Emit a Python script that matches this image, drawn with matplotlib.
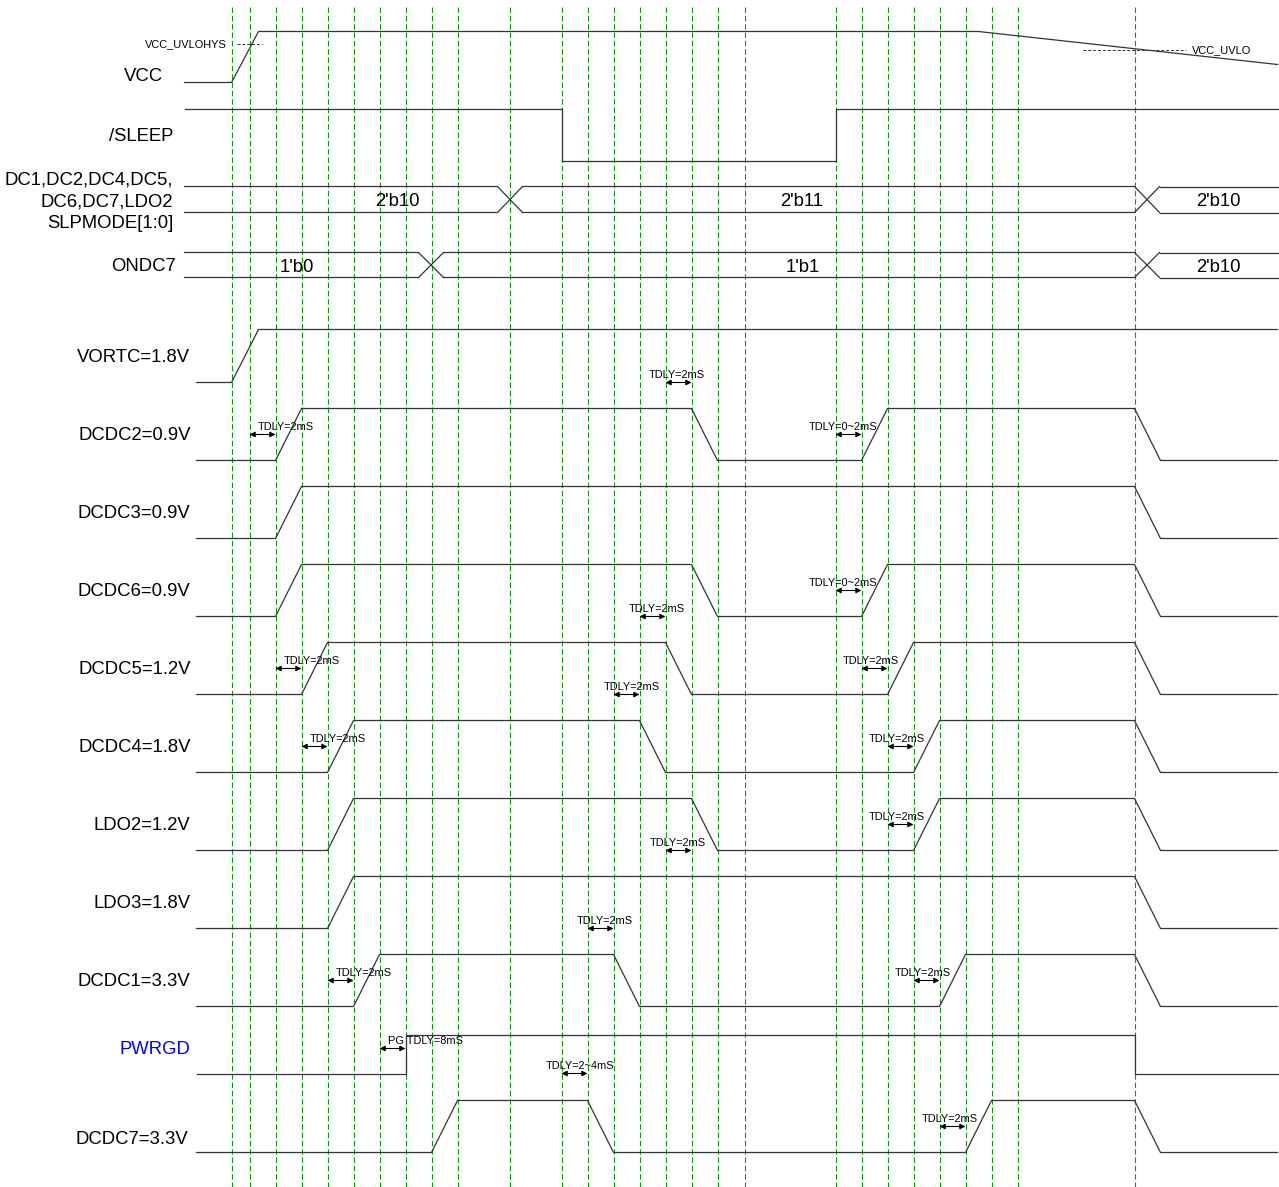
import matplotlib
matplotlib.use('Agg')
import numpy as np
from matplotlib import pyplot as plt

plt.rcParams['font.family'] = ['Liberation Sans', 'DejaVu Sans']

# time axis is in drawing units (left edge = 0), one grid step is ~26 units
grid_t = [231, 249, 275, 301, 327, 353, 379, 405, 431, 457, 509, 561, 587, 613, 639,
          665, 691, 717, 744, 835, 861, 887, 913, 939, 965, 991, 1017, 1134]
t_start = 196
t_end = 1277
ramp = 26

# VCC: rises at power-on, decays at the end
vcc_rise = 231
vcc_fall = 978
# /SLEEP low window
sleep_low = [561, 835]

# bus signals: (transition start, value text after it)
slp_values = ["2'b10", "2'b11", "2'b10"]
slp_edges = [497, 1134]
ondc7_values = ["1'b0", "1'b1", "2'b10"]
ondc7_edges = [418, 1134]

# rail signals: name, edges (time, 1 = rise / 0 = fall)
rail_names = ['VORTC=1.8V', 'DCDC2=0.9V', 'DCDC3=0.9V', 'DCDC6=0.9V', 'DCDC5=1.2V',
              'DCDC4=1.8V', 'LDO2=1.2V', 'LDO3=1.8V', 'DCDC1=3.3V', 'PWRGD', 'DCDC7=3.3V']
rail_edges = [
    [(231, 1)],
    [(275, 1), (691, 0), (861, 1), (1134, 0)],
    [(275, 1), (1134, 0)],
    [(275, 1), (691, 0), (861, 1), (1134, 0)],
    [(301, 1), (665, 0), (887, 1), (1134, 0)],
    [(327, 1), (639, 0), (913, 1), (1134, 0)],
    [(327, 1), (691, 0), (913, 1), (1134, 0)],
    [(327, 1), (1134, 0)],
    [(353, 1), (613, 0), (939, 1), (1134, 0)],
    [(405, 1), (1134, 0)],
    [(431, 1), (587, 0), (965, 1), (1134, 0)],
]

# delay annotations: arrow from, arrow to, text
dly_from = [249, 665, 835, 835, 639, 275, 613, 861, 301, 887, 665, 887, 587, 327, 913, 379, 561, 939]
dly_to = [275, 691, 861, 861, 665, 301, 639, 887, 327, 913, 691, 913, 613, 353, 939, 405, 587, 965]
dly_text = ['TDLY=2mS', 'TDLY=2mS', 'TDLY=0~2mS', 'TDLY=0~2mS', 'TDLY=2mS', 'TDLY=2mS',
            'TDLY=2mS', 'TDLY=2mS', 'TDLY=2mS', 'TDLY=2mS', 'TDLY=2mS', 'TDLY=2mS',
            'TDLY=2mS', 'TDLY=2mS', 'TDLY=2mS', 'PG TDLY=8mS', 'TDLY=2~4mS', 'TDLY=2mS']

# ---- layout (screen positions, y grows downward) ----
rail_low = [382, 460, 538, 616, 694, 772, 850, 928, 1006, 1073, 1152]
rail_high = [329, 408, 486, 564, 642, 720, 798, 876, 954, 1034, 1100]
rail_label_x = [190, 190, 190, 190, 190, 190, 190, 190, 190, 190, 188]
rail_label_y = [355, 433, 511, 589, 667, 745, 823, 901, 979, 1047, 1137]
dly_y = [434, 382, 434, 590, 616, 668, 694, 668, 746, 746, 850, 824, 928, 980, 980, 1048, 1073, 1126]
dly_tx = [257, 648, 808, 808, 628, 283, 603, 842, 309, 868, 649, 868, 576, 335, 894, 387, 545, 921]

LINE = '#333333'
GREEN = '#0a9a0a'
BIG = 13.3
SMALL = 7.9
DPI = 100


def put_text(ax, x, yc, s, size, ha='left', color='black'):
    # place text so that capital letters are centred on yc
    px = size * DPI / 72.0
    ax.text(x, yc + 0.358 * px, s, fontsize=size, ha=ha, va='baseline', color=color)


fig = plt.figure(figsize=(12.79, 11.87), dpi=DPI)
ax = fig.add_axes([0, 0, 1, 1])
# half-pixel shift so integer positions land on pixel centres
ax.set_xlim(-0.5, 1278.5)
ax.set_ylim(1186.5, -0.5)
ax.axis('off')

# grid
for t in grid_t:
    ax.plot([t, t], [6, 1187], color=GREEN, lw=0.8, linestyle=(0, (5, 2.5)), zorder=1)

# VCC
vcc_low, vcc_high, vcc_end = 82, 31, 64
ax.plot([184, vcc_rise, vcc_rise + 27, vcc_fall, t_end],
        [vcc_low, vcc_low, vcc_high, vcc_high, vcc_end], color=LINE, lw=0.9, zorder=3)
put_text(ax, 163, 74, 'VCC', BIG, ha='right')
ax.plot([236, 261], [43, 43], color=LINE, lw=0.7, linestyle=(0, (3, 2)), zorder=3)
put_text(ax, 226, 43, 'VCC_UVLOHYS', SMALL, ha='right')
ax.plot([1082, 1185], [49, 49], color=LINE, lw=0.7, linestyle=(0, (3, 2)), zorder=3)
put_text(ax, 1191, 49, 'VCC_UVLO', SMALL)

# /SLEEP
sh, sl = 108, 160
ax.plot([184, sleep_low[0], sleep_low[0], sleep_low[1], sleep_low[1], t_end],
        [sh, sh, sl, sl, sh, sh], color=LINE, lw=0.9, zorder=3)
put_text(ax, 173, 134, '/SLEEP', BIG, ha='right')


def draw_bus(ax, top, bot, edges, values, centers):
    xs_top, ys_top = [184], [top]
    xs_bot, ys_bot = [184], [bot]
    for e in edges:
        xs_top += [e, e + 25]
        ys_top += [top, bot]
        xs_bot += [e, e + 25]
        ys_bot += [bot, top]
        ax.plot(xs_top, ys_top, color=LINE, lw=0.9, zorder=3)
        ax.plot(xs_bot, ys_bot, color=LINE, lw=0.9, zorder=3)
        xs_top, ys_top = [e + 25], [top]
        xs_bot, ys_bot = [e + 25], [bot]
    xs_top.append(t_end); ys_top.append(top)
    xs_bot.append(t_end); ys_bot.append(bot)
    ax.plot(xs_top, ys_top, color=LINE, lw=0.9, zorder=3)
    ax.plot(xs_bot, ys_bot, color=LINE, lw=0.9, zorder=3)
    for v, c in zip(values, centers):
        put_text(ax, c, (top + bot) / 2.0, v, BIG, ha='center')


draw_bus(ax, 186, 212, slp_edges, slp_values, [397, 801, 1218])
put_text(ax, 173, 177, 'DC1,DC2,DC4,DC5,', BIG, ha='right')
put_text(ax, 173, 199, 'DC6,DC7,LDO2', BIG, ha='right')
put_text(ax, 173, 221, 'SLPMODE[1:0]', BIG, ha='right')

draw_bus(ax, 252, 277, ondc7_edges, ondc7_values, [296, 802, 1218])
put_text(ax, 175, 264, 'ONDC7', BIG, ha='right')

# power rails
for i, name in enumerate(rail_names):
    lo, hi = rail_low[i], rail_high[i]
    step = name == 'PWRGD'
    dur = 0 if step else (27 if i == 0 else ramp)
    xs, ys = [t_start], [lo]
    level = lo
    for t, up in rail_edges[i]:
        new = hi if up else lo
        xs += [t, t + dur]
        ys += [level, new]
        level = new
    xs.append(t_end)
    ys.append(level)
    ax.plot(xs, ys, color=LINE, lw=0.9, zorder=3)
    put_text(ax, rail_label_x[i], rail_label_y[i], name, BIG, ha='right',
             color='#0000ff' if step else 'black')

# delay markers
for x0, x1, y, s, tx in zip(dly_from, dly_to, dly_y, dly_text, dly_tx):
    ax.annotate('', xy=(x1, y), xytext=(x0, y),
                arrowprops=dict(arrowstyle='<|-|>', color='black', lw=0.8,
                                mutation_scale=8, shrinkA=0, shrinkB=0), zorder=4)
    put_text(ax, tx, y - 8.5, s, SMALL)

fig.savefig('out.png', dpi=DPI)
